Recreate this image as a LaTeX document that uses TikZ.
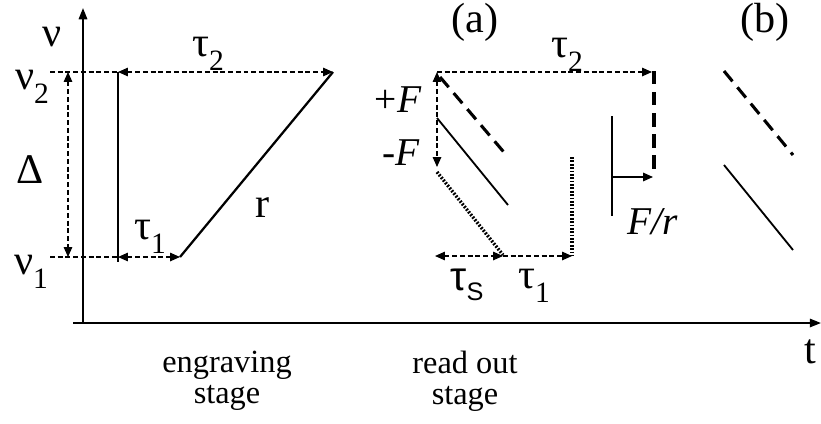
\documentclass[tikz,border=0pt]{standalone}
\usepackage{fontspec}
\setmainfont{Liberation Serif}
\newfontfamily\arialfont{Liberation Sans}
\usepackage{tikz}
\usetikzlibrary{arrows.meta, positioning}
\newcommand{\lowidx}[1]{\raisebox{-0.32em}{\fontsize{21}{21}\selectfont #1}}

\begin{document}
\begin{tikzpicture}[x=0.025cm, y=-0.025cm,
    lbl/.style={font=\fontsize{23}{22}\selectfont, inner sep=0pt},
    itl/.style={font=\fontsize{28}{30}\selectfont\itshape, inner sep=0pt},
    grk/.style={font=\fontsize{30}{32}\selectfont, inner sep=0pt},
    axis/.style={line width=1.3pt, -{Triangle[length=8pt, width=6pt]}},
    guide/.style={dashed, dash pattern=on 3.5pt off 2pt, line width=0.9pt},
    span/.style={guide, {Triangle[length=7pt, width=6pt]}-{Triangle[length=7pt, width=6pt]}},
    tospan/.style={guide, -{Triangle[length=7pt, width=6pt]}},
    trace/.style={line width=1.6pt},
    longdash/.style={line width=2.2pt, dash pattern=on 9.5pt off 5.5pt},
    dotline/.style={line width=2.4pt, dash pattern=on 1.3pt off 1.1pt},
]
    \useasboundingbox (0,0) rectangle (821,423);

    % Axes
    \coordinate (yb) at (83,323);
    \coordinate (yt) at (83,8);
    \coordinate (xl) at (73,323);
    \coordinate (xr) at (821,323);
    \draw[axis] (yb) -- (yt);
    \draw[axis] (xl) -- (xr);

    % Engraving stage
    \coordinate (n2l) at (50,72);
    \coordinate (n2a) at (118,72);
    \coordinate (n2b) at (333,72);
    \coordinate (n1l) at (50,257);
    \coordinate (n1a) at (118,257);
    \coordinate (n1b) at (180,257);
    \coordinate (dt) at (68,72);
    \coordinate (db) at (68,257);
    \coordinate (vb) at (118,262);
    \draw[guide] (n2l) -- (n2a);
    \draw[guide] (n1l) -- (n1a);
    \draw[span] (n2a) -- (n2b);
    \draw[span] (n1a) -- (n1b);
    \draw[span] (dt) -- (db);
    \draw[trace] (n2a) -- (vb);
    \draw[trace] (n1b) -- (n2b);

    % Read out stage (a)
    \coordinate (ft) at (437,72);
    \coordinate (fm) at (437,118);
    \coordinate (fb) at (437,167);
    \coordinate (tr) at (652,72);
    \coordinate (da1) at (440,77);
    \coordinate (da2) at (508,157);
    \coordinate (sa2) at (508,205);
    \coordinate (ob1) at (437,172);
    \coordinate (ob2) at (503,255);
    \coordinate (ov1) at (572,157);
    \coordinate (ov2) at (572,255);
    \coordinate (s1) at (435,256);
    \coordinate (s2) at (503,256);
    \coordinate (s3) at (572,256);
    \draw[span] (ft) -- (fb);
    \draw[tospan] (ft) -- (tr);
    \draw[longdash] (da1) -- (da2);
    \draw[trace, line width=1.3pt] (fm) -- (sa2);
    \draw[dotline] (ob1) -- (ob2);
    \draw[dotline] (ov1) -- (ov2);
    \draw[span] (s1) -- (s2);
    \draw[tospan] (s2) -- (s3);

    % Shift F/r
    \coordinate (qv1) at (654,71);
    \coordinate (qv2) at (654,170);
    \coordinate (pv1) at (612,116);
    \coordinate (pv2) at (612,216);
    \coordinate (pa1) at (612,177);
    \coordinate (pa2) at (653,177);
    \draw[longdash] (qv1) -- (qv2);
    \draw[trace, line width=1.3pt] (pv1) -- (pv2);
    \draw[line width=1.1pt, -{Triangle[length=7pt, width=6pt]}] (pa1) -- (pa2);

    % Read out stage (b)
    \coordinate (bd1) at (724,71);
    \coordinate (bd2) at (793,155);
    \coordinate (bs1) at (724,165);
    \coordinate (bs2) at (793,250);
    \draw[longdash] (bd1) -- (bd2);
    \draw[trace, line width=1.3pt] (bs1) -- (bs2);

    % Labels
    \node[grk] (nu) at (52,37) {ν};
    \node[grk] (nu2) at (32,87) {ν\lowidx{2}};
    \node[grk] (nu1) at (31,272) {ν\lowidx{1}};
    \node[grk] (delta) at (30,170) {Δ};
    \node[grk] (tau2l) at (208,54) {τ\lowidx{2}};
    \node[grk] (tau1l) at (150,237) {τ\lowidx{1}};
    \node[grk] (rate) at (263,208) {r};
    \node[grk] (tau2r) at (567,55) {τ\lowidx{2}};
    \node[grk] (tau1r) at (534,286) {τ\lowidx{1}};
    \node[grk, font=\fontsize{29}{31}\selectfont] (taus) at (467,285)
        {\arialfont τ\raisebox{-0.25em}{\fontsize{18}{18}\selectfont S}};
    \node[grk] (tee) at (810,352) {t};
    \node[lbl, font=\fontsize{30}{32}\selectfont] (capa) at (475,22) {(a)};
    \node[lbl, font=\fontsize{30}{32}\selectfont] (capb) at (765,22) {(b)};
    \node[itl] (plusf) at (398,100) {\upshape+\itshape F};
    \node[itl] (minusf) at (401,153) {\upshape-\itshape F};
    \node[itl] (shift) at (653,222) {F/r};
    \node[lbl, align=center] (engr) at (227,381) {engraving\\stage};
    \node[lbl, align=center] (rdout) at (465,381) {read out\\stage};
\end{tikzpicture}
\end{document}
